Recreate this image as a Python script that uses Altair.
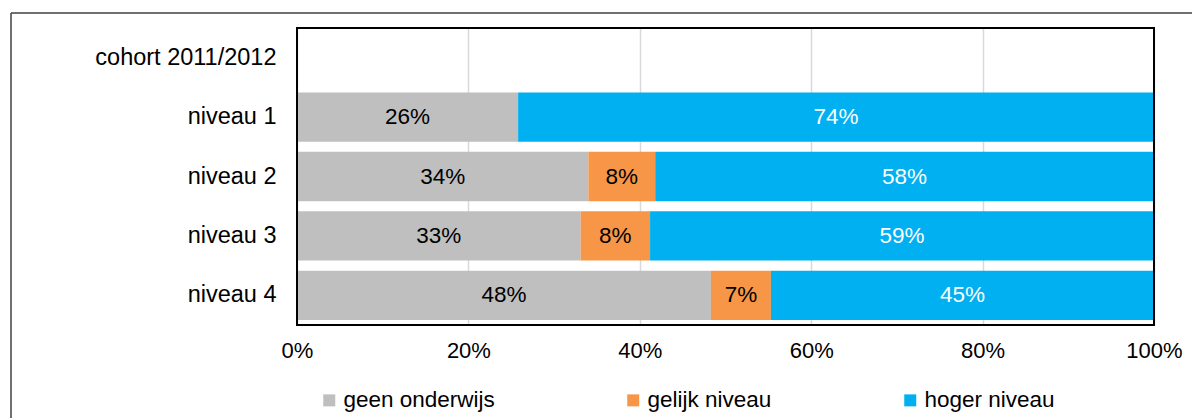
import altair as alt
import pandas as pd

rijen = ["cohort 2011/2012", "niveau 1", "niveau 2", "niveau 3", "niveau 4"]
categorieen = ["niveau 1", "niveau 2", "niveau 3", "niveau 4"]
reeksen = ["geen onderwijs", "gelijk niveau", "hoger niveau"]
kleuren = ["#BFBFBF", "#F79646", "#00B0F0"]
geen_onderwijs = [25.8, 34.0, 33.1, 48.3]
gelijk_niveau = [0.0, 7.8, 8.1, 7.0]
hoger_niveau = [74.2, 58.2, 58.8, 44.7]
x_ticks = [0, 0.2, 0.4, 0.6, 0.8, 1.0]

rows = []
for i, cat in enumerate(categorieen):
    for j, (naam, reeks) in enumerate(zip(reeksen, [geen_onderwijs, gelijk_niveau, hoger_niveau])):
        if reeks[i] > 0:
            rows.append({"niveau": cat, "reeks": naam, "waarde": reeks[i] / 100, "volgorde": j})
df = pd.DataFrame(rows)

FONT = "Liberation Sans"

y_enc = alt.Y("niveau:N", scale=alt.Scale(domain=rijen, paddingInner=0.17, paddingOuter=0.085),
              axis=alt.Axis(title=None, ticks=False, domain=False, labelFontSize=23.5, labelColor="black",
                            labelFont=FONT, labelPadding=21, labelLimit=400))

bars = alt.Chart(df).mark_bar().encode(
    y=y_enc,
    x=alt.X("waarde:Q", stack="zero", scale=alt.Scale(domain=[0, 1], nice=False),
            axis=alt.Axis(title=None, format=".0%", values=x_ticks, ticks=False, domain=False,
                          grid=True, gridColor="#D9D9D9", gridWidth=1.5, labelFontSize=22,
                          labelColor="black", labelFont=FONT, labelPadding=15, labelFlush=False)),
    color=alt.Color("reeks:N", scale=alt.Scale(domain=reeksen, range=kleuren),
                    legend=alt.Legend(title=None, orient="none", direction="horizontal",
                                      legendX=21, legendY=361, symbolType="square", symbolSize=144,
                                      symbolStrokeWidth=0, labelFontSize=22.5, labelFont=FONT,
                                      labelColor="black", columnPadding=127, labelOffset=3,
                                      labelLimit=400)),
    order=alt.Order("volgorde:Q"),
)

labels = alt.Chart(df).transform_stack(
    stack="waarde", groupby=["niveau"], sort=[alt.SortField("volgorde")], as_=["x0", "x1"]
).transform_calculate(
    mid="(datum.x0 + datum.x1) / 2",
    tc="datum.reeks == 'hoger niveau' ? 'white' : 'black'",
).mark_text(fontSize=22.5, font=FONT).encode(
    y=alt.Y("niveau:N"),
    x=alt.X("mid:Q"),
    text=alt.Text("waarde:Q", format=".0%"),
    color=alt.Color("tc:N", scale=None),
)

dummy = pd.DataFrame({"a": [0]})
frame = alt.Chart(dummy).mark_rect(fill=None, stroke="black", strokeWidth=2).encode(
    x=alt.value(0), x2=alt.value(857), y=alt.value(0), y2=alt.value(297))
top_line = alt.Chart(dummy).mark_rule(color="#404040", strokeWidth=1.5).encode(
    x=alt.value(-286), x2=alt.value(900), y=alt.value(-15))
left_line = alt.Chart(dummy).mark_rule(color="#404040", strokeWidth=1.5).encode(
    x=alt.value(-286), y=alt.value(-15), y2=alt.value(410))

chart = alt.layer(bars, labels, frame, top_line, left_line).properties(
    width=857, height=297,
    padding={"left": 289, "top": 20, "right": 38, "bottom": 96},
    autosize=alt.AutoSizeParams(type="none"),
).configure_view(stroke=None)

chart.save("out.html", embed_options={"renderer": "svg", "actions": False})
